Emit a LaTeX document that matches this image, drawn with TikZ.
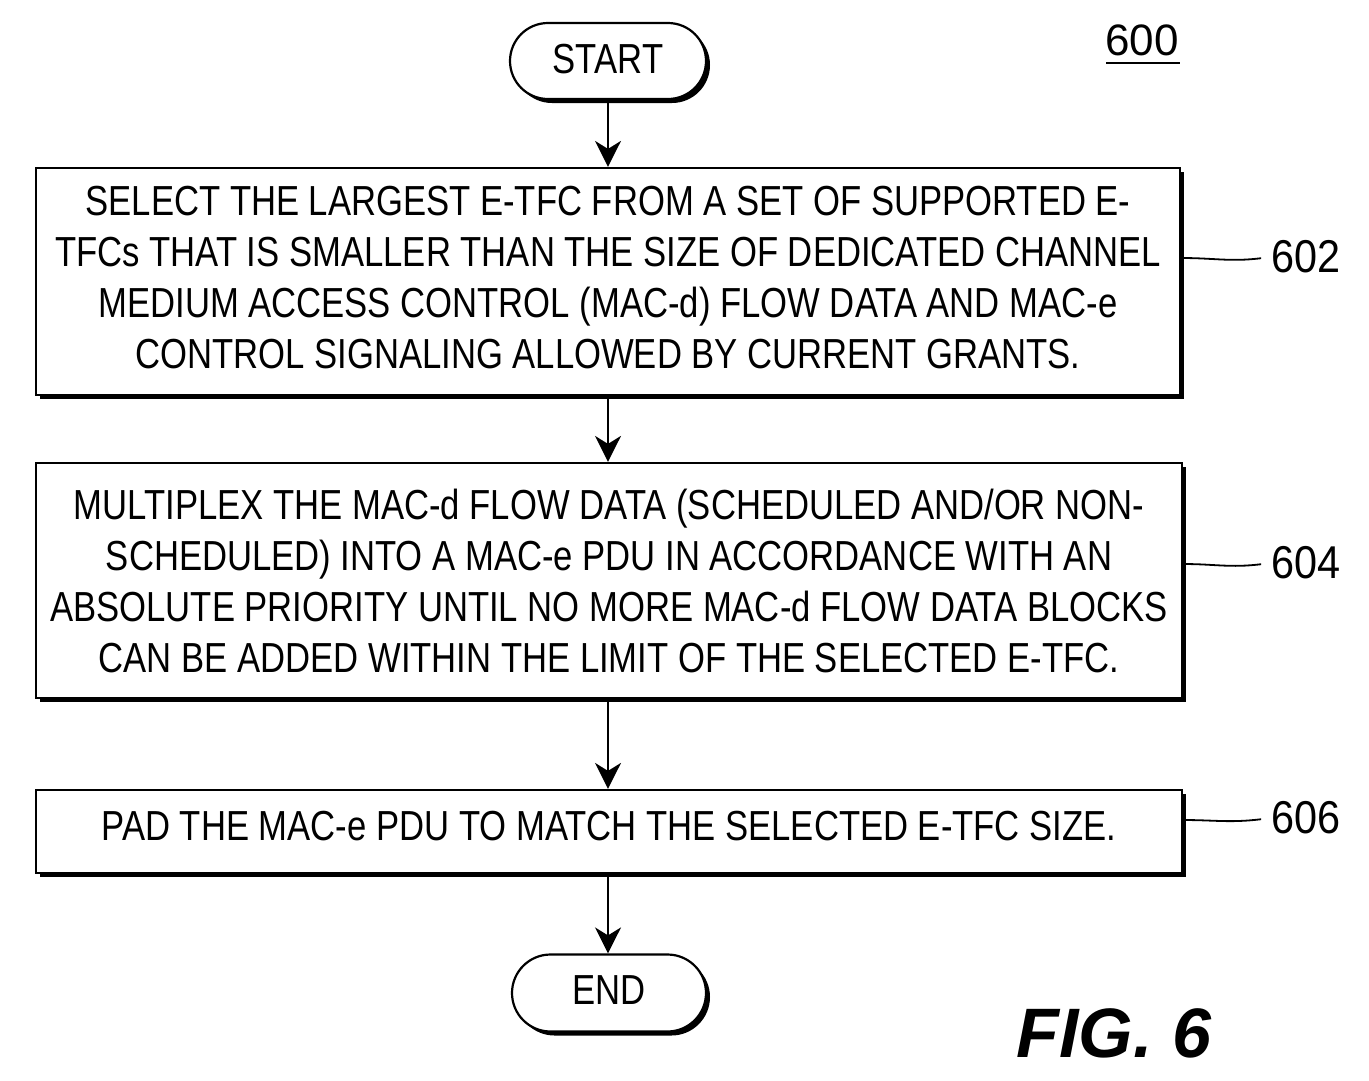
\documentclass[tikz,border=0pt]{standalone}
\usepackage{fontspec}
\setmainfont{Liberation Sans}
\newfontfamily\condfont[FakeStretch=0.825]{Liberation Sans}
\newfontfamily\labfont[FakeStretch=0.9]{Liberation Sans}
\usetikzlibrary{shapes.misc,shadows,arrows.meta}
\newcommand{\lowpad}[1]{\rule[-#1]{0pt}{1pt}}
\begin{document}
\begin{tikzpicture}[x=1pt,y=-1pt,
  shad/.style={drop shadow={shadow xshift=4pt,shadow yshift=-4pt,fill=black,opacity=1}},
  stepbox/.style={draw,line width=2.2pt,fill=white,shad,align=center,inner sep=0pt,
     font=\condfont\fontsize{42}{51}\selectfont},
  term/.style={draw,line width=2.2pt,fill=white,shad,rounded rectangle,inner sep=0pt,
     font=\condfont\fontsize{42}{48}\selectfont},
  flow/.style={line width=2pt,-{Stealth[length=26pt,width=26pt,inset=8pt]}},
  lead/.style={line width=1.8pt},
  reflab/.style={font=\labfont\fontsize{46}{50}\selectfont,anchor=west,inner sep=0pt}
]
\useasboundingbox (0,0) rectangle (1369,1080);

\node[term,minimum width=196pt,minimum height=76pt] (start) at (608,61) {START\lowpad{4pt}};

\node[stepbox,minimum width=1144pt,minimum height=227pt] (b602) at (608,281.5)
 {SELECT THE LARGEST E-TFC FROM A SET OF SUPPORTED E-\\
  TFCs THAT IS SMALLER THAN THE SIZE OF DEDICATED CHANNEL\\
  MEDIUM ACCESS CONTROL (MAC-d) FLOW DATA AND MAC-e\\
  CONTROL SIGNALING ALLOWED BY CURRENT GRANTS.\lowpad{9pt}};

\node[stepbox,minimum width=1146pt,minimum height=235pt] (b604) at (609,580.5)
 {MULTIPLEX THE MAC-d FLOW DATA (SCHEDULED AND/OR NON-\\
  SCHEDULED) INTO A MAC-e PDU IN ACCORDANCE WITH AN\\
  ABSOLUTE PRIORITY UNTIL NO MORE MAC-d FLOW DATA BLOCKS\\
  CAN BE ADDED WITHIN THE LIMIT OF THE SELECTED E-TFC.};

\node[stepbox,minimum width=1146pt,minimum height=83pt] (b606) at (609,831.5)
 {PAD THE MAC-e PDU TO MATCH THE SELECTED E-TFC SIZE.\lowpad{12pt}};

\node[term,minimum width=194pt,minimum height=77pt] (end) at (609,993) {END\lowpad{5pt}};

\draw[flow] (start.south) -- (b602.north -| start.south);
\draw[flow] (b602.south -| start.south) -- (b604.north -| start.south);
\draw[flow] (b604.south -| start.south) -- (b606.north -| start.south);
\draw[flow] (b606.south -| start.south) -- (end.north -| start.south);

\node[reflab] (l602) at (1271,257) {602};
\node[reflab] (l604) at (1271,563) {604};
\node[reflab] (l606) at (1271,818) {606};
\coordinate (c602) at (b602.east |- 0,258);
\coordinate (c604) at (b604.east |- 0,564);
\coordinate (c606) at (b606.east |- 0,820);
\draw[lead,shorten >=10pt] (c602) .. controls (1215,258) and (1230,262) .. (l602.west);
\draw[lead,shorten >=10pt] (c604) .. controls (1215,564) and (1230,568) .. (l604.west);
\draw[lead,shorten >=10pt] (c606) .. controls (1215,820) and (1230,823) .. (l606.west);

\node[font=\setmainfont{Liberation Sans}\fontsize{44}{48}\selectfont,inner sep=0pt] (n600) at (1142,40) {600};
\draw[line width=2pt] (1106,63) -- (1180,63);

\node[font=\bfseries\itshape\fontsize{70}{72}\selectfont,inner sep=0pt] (fig) at (1114,1033) {FIG. 6};
\end{tikzpicture}
\end{document}
